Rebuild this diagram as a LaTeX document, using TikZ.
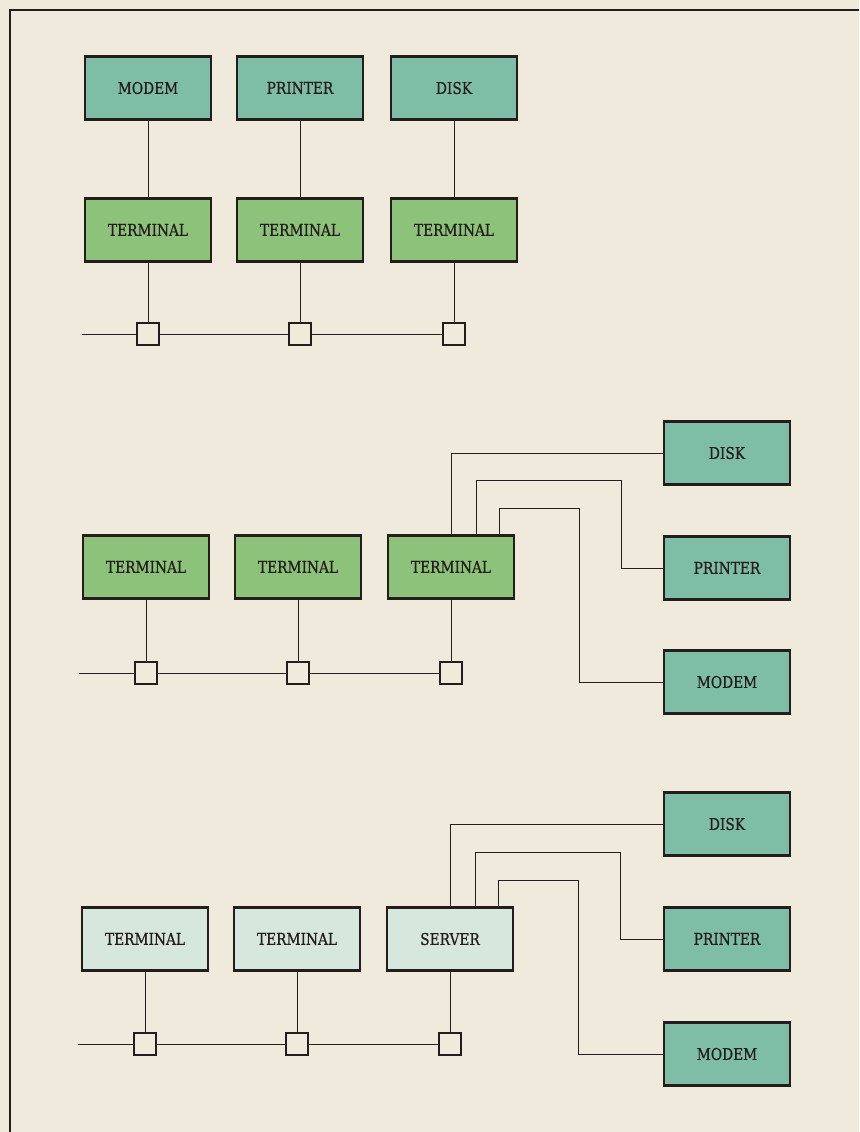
\documentclass[tikz,border=0pt]{standalone}
\usepackage{fontspec}
\setmainfont{DejaVu Serif}[FakeStretch=0.85,FakeBold=0.6]
\usetikzlibrary{positioning,calc}
\definecolor{paper}{RGB}{239,234,219}
\definecolor{devfill}{RGB}{126,189,166}
\definecolor{termfill}{RGB}{141,194,122}
\definecolor{srvfill}{RGB}{214,231,221}
\definecolor{ink}{RGB}{35,30,27}
\tikzset{
	unit/.style = {draw=ink, line width=1.5pt, rectangle, minimum height=1.26cm, minimum width=2.52cm, outer sep=0pt, text=ink, font=\fontsize{9.2}{10}\selectfont},
	device/.style = {unit, fill=devfill},
	terminal/.style = {unit, fill=termfill},
	server/.style = {unit, fill=srvfill},
	tap/.style = {draw=ink, line width=1.3pt, fill=paper, rectangle, minimum size=0.45cm, inner sep=0pt, outer sep=0pt},
	wire/.style = {draw=ink, line width=0.55pt}
}

\begin{document}
\begin{tikzpicture}[x=0.02cm,y=-0.02cm]
	\useasboundingbox[fill=paper] (0,0) rectangle (859,1132);
	\draw[ink, line width=1.4pt] (10,1132) -- (10,10) -- (859,10);
	
	% terminals with their own devices
	\node[device] (mod1) at (148,88) {MODEM};
	\node[device] (prn1) at (300,88) {PRINTER};
	\node[device] (dsk1) at (454,88) {DISK};
	\node[terminal] (ta1) at (148,230) {TERMINAL};
	\node[terminal] (tb1) at (300,230) {TERMINAL};
	\node[terminal] (tc1) at (454,230) {TERMINAL};
	\node[tap] (xa1) at (148,334) {};
	\node[tap] (xb1) at (300,334) {};
	\node[tap] (xc1) at (454,334) {};
	\coordinate (bus1) at (82,334);
	\draw[wire] (mod1) -- (ta1) -- (xa1);
	\draw[wire] (prn1) -- (tb1) -- (xb1);
	\draw[wire] (dsk1) -- (tc1) -- (xc1);
	\draw[wire] (bus1) -- (xa1) -- (xb1) -- (xc1);
	
	% one terminal holds all devices
	\node[terminal] (ta2) at (146,567) {TERMINAL};
	\node[terminal] (tb2) at (298,567) {TERMINAL};
	\node[terminal] (tc2) at (451,567) {TERMINAL};
	\node[device] (dsk2) at (727,453) {DISK};
	\node[device] (prn2) at (727,568) {PRINTER};
	\node[device] (mod2) at (727,682) {MODEM};
	\node[tap] (xa2) at (146,673) {};
	\node[tap] (xb2) at (298,673) {};
	\node[tap] (xc2) at (451,673) {};
	\coordinate (bus2) at (79,673);
	\draw[wire] (ta2) -- (xa2);
	\draw[wire] (tb2) -- (xb2);
	\draw[wire] (tc2) -- (xc2);
	\draw[wire] (bus2) -- (xa2) -- (xb2) -- (xc2);
	\draw[wire] (tc2.north) |- (dsk2.west);
	\draw[wire] ([xshift=0.5cm]tc2.north) |- ++(145,-55) |- (prn2.west);
	\draw[wire] ([xshift=0.96cm]tc2.north) |- ++(80,-27) |- (mod2.west);
	
	% dedicated server
	\node[server] (ta3) at (145,939) {TERMINAL};
	\node[server] (tb3) at (297,939) {TERMINAL};
	\node[server] (srv3) at (450,939) {SERVER};
	\node[device] (dsk3) at (727,824) {DISK};
	\node[device] (prn3) at (727,939) {PRINTER};
	\node[device] (mod3) at (727,1054) {MODEM};
	\node[tap] (xa3) at (145,1044) {};
	\node[tap] (xb3) at (297,1044) {};
	\node[tap] (xc3) at (450,1044) {};
	\coordinate (bus3) at (78,1044);
	\draw[wire] (ta3) -- (xa3);
	\draw[wire] (tb3) -- (xb3);
	\draw[wire] (srv3) -- (xc3);
	\draw[wire] (bus3) -- (xa3) -- (xb3) -- (xc3);
	\draw[wire] (srv3.north) |- (dsk3.west);
	\draw[wire] ([xshift=0.5cm]srv3.north) |- ++(145,-55) |- (prn3.west);
	\draw[wire] ([xshift=0.96cm]srv3.north) |- ++(80,-27) |- (mod3.west);
\end{tikzpicture}
\end{document}
